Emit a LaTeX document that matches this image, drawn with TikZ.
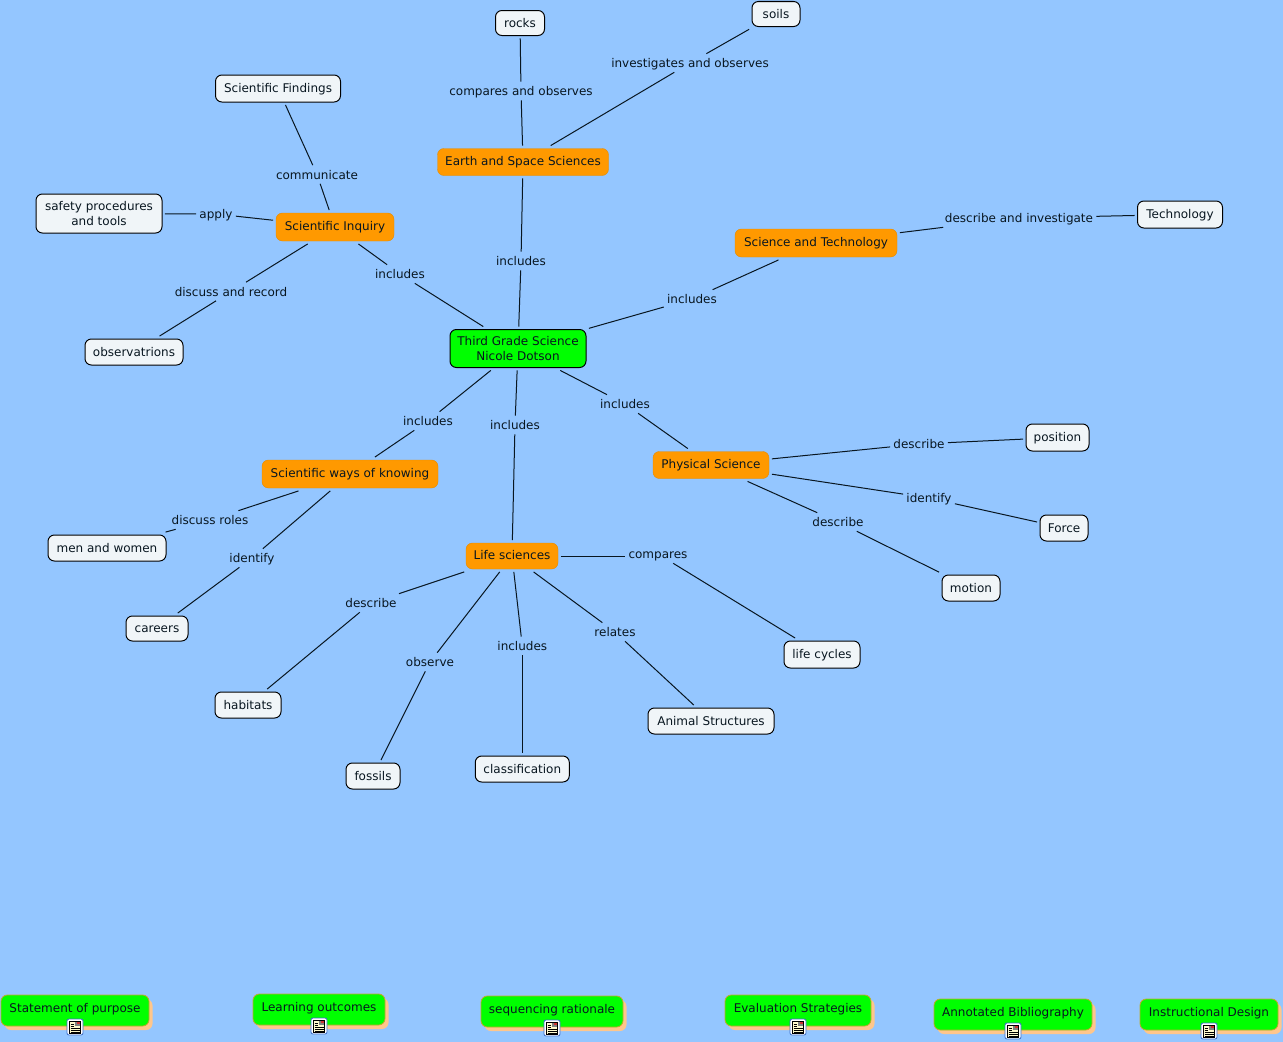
\documentclass[tikz,border=0pt]{standalone}
\usepackage{fontspec}
\setmainfont{DejaVu Sans}
\definecolor{bgblue}{RGB}{148,198,255}
\definecolor{lightbox}{RGB}{240,245,248}
\definecolor{orangebox}{RGB}{255,153,0}
\definecolor{greenbox}{RGB}{0,255,0}
\definecolor{shadowor}{RGB}{255,198,140}
\definecolor{edgeor}{RGB}{190,170,40}
\definecolor{inkdark}{RGB}{8,22,32}
\definecolor{iconblue}{RGB}{60,110,200}
\definecolor{iconpage}{RGB}{255,250,205}
\tikzset{
  x=0.75pt,y=-0.75pt,
  every node/.style={font=\fontsize{9pt}{11pt}\selectfont,text=inkdark,align=center},
  box/.style={rounded corners=4.8pt,inner sep=0pt,outer sep=2.2pt,text height=7.6pt,text depth=1.4pt},
  plain/.style={box,draw=black,line width=0.75pt,fill=lightbox},
  twoplain/.style={plain,text height={},text depth={}},
  topic/.style={box,fill=orangebox,draw=orangebox!90!black,line width=0.3pt,text height=7pt,text depth=2pt},
  root/.style={box,fill=greenbox,draw=black,line width=0.75pt,text height={},text depth={}},
  link/.style={inner sep=1pt,outer sep=1.5pt,text height=8pt,text depth=1pt},
  conn/.style={draw=inkdark,line width=0.75pt},
  tab/.style={rounded corners=4.8pt,fill=greenbox,draw=edgeor,line width=0.6pt},
  tabshadow/.style={rounded corners=4.8pt,fill=shadowor,draw=none},
  iconbox/.style={draw=iconblue,fill=white,rounded corners=1.5pt,line width=0.6pt,minimum width=12pt,minimum height=12pt,inner sep=0pt,outer sep=0pt},
}
\newcommand{\boxat}[7]{% style,name,cx,cy,w,h,text
  \node[#1,minimum width=#5*0.75pt,minimum height=#6*0.75pt] (#2) at (#3,#4) {#7};}
\newcommand{\tabat}[7]{% name,iconname,left,top,right,bottom,text
  \fill[tabshadow] (#3+3.5,#4+4) rectangle (#5+3.5,#6+4);
  \path[tab] (#3,#4) rectangle (#5,#6);
  \node[inner sep=0pt,text height=7.6pt,text depth=1.4pt] (#1) at ({(#3+#5)/2},{(#4+#6)/2-2}) {#7};
  \node[iconbox] (#2) at ({(#3+#5)/2},#6+1) {};
  \begin{scope}[shift={(#2.center)}]
    \fill[iconpage] (-5.5,-6) rectangle (5.5,6);
    \draw[black,line width=0.4pt] (-5.5,-6) rectangle (5.5,6);
    \fill[gray] (0,-5) rectangle (4.5,-1);
    \fill[red!60!gray] (2,-5) rectangle (4.5,-3);
    \draw[black,line width=0.45pt] (-4.5,-3) -- (-1,-3) (-4.5,-1) -- (-1,-1) (-4.5,1) -- (4.5,1) (-4.5,3) -- (4.5,3) (-4.5,5) -- (4.5,5);
  \end{scope}}
\begin{document}
\begin{tikzpicture}
\path[use as bounding box,fill=bgblue] (0,0) rectangle (1283,1042);
% concepts
\boxat{plain}{rocks}{520}{23}{49}{25}{rocks}
\boxat{plain}{soils}{776}{14}{48}{25}{soils}
\boxat{plain}{findings}{278}{88.5}{125}{27}{Scientific Findings}
\boxat{topic}{earth}{523}{162}{171}{27}{Earth and Space Sciences}
\boxat{twoplain}{safety}{99}{213.5}{126}{39}{safety procedures\\and tools}
\boxat{topic}{inquiry}{335}{227}{118}{28}{Scientific Inquiry}
\boxat{topic}{scitech}{816}{243}{162}{28}{Science and Technology}
\boxat{plain}{tech}{1180}{214.5}{85}{27}{Technology}
\boxat{plain}{obs}{134}{352}{98}{26}{observatrions}
\boxat{root}{third}{518}{348.5}{136}{38}{Third Grade Science\\Nicole Dotson}
\boxat{plain}{position}{1057.5}{437.5}{63}{27}{position}
\boxat{topic}{physical}{711}{465}{116}{27}{Physical Science}
\boxat{plain}{force}{1064}{528}{48}{26}{Force}
\boxat{topic}{ways}{350}{474}{176}{28}{Scientific ways of knowing}
\boxat{plain}{men}{107}{548}{118}{26}{men and women}
\boxat{topic}{life}{512}{556}{92}{26}{Life sciences}
\boxat{plain}{motion}{971}{588}{58}{26}{motion}
\boxat{plain}{careers}{157}{628.5}{62}{25}{careers}
\boxat{plain}{cycles}{822}{654.5}{76}{27}{life cycles}
\boxat{plain}{habitats}{248}{705}{66}{26}{habitats}
\boxat{plain}{animal}{711}{721}{126}{26}{Animal Structures}
\boxat{plain}{classif}{522.3}{769}{94}{26}{classification}
\boxat{plain}{fossils}{373}{776}{54}{26}{fossils}
% link labels
\node[link] (lapply) at (216,214) {apply};
\node[link] (lcomm) at (317,174.5) {communicate};
\node[link] (ldisc) at (231,291.5) {discuss and record};
\node[link] (linq) at (400,274) {includes};
\node[link] (lcomp) at (521,91) {compares and observes};
\node[link] (linv) at (690,63) {investigates and observes};
\node[link] (lear) at (521,261) {includes};
\node[link] (ldi) at (1019,218) {describe and investigate};
\node[link] (lst) at (692,299) {includes};
\node[link] (lphy) at (625,404) {includes};
\node[link] (lway) at (428,421) {includes};
\node[link] (llif) at (515,425) {includes};
\node[link] (ldp) at (919,444) {describe};
\node[link] (lif) at (929,498) {identify};
\node[link] (ldm) at (838,522) {describe};
\node[link] (lroles) at (210,520) {discuss roles};
\node[link] (lidc) at (252,558) {identify};
\node[link] (lcmp) at (658,554) {compares};
\node[link] (ldh) at (371,603) {describe};
\node[link] (lobs) at (430,662) {observe};
\node[link] (linc) at (522.3,646) {includes};
\node[link] (lrel) at (615,632) {relates};
% connectors
\draw[conn] (inquiry) -- (lapply); \draw[conn] (lapply) -- (safety);
\draw[conn] (inquiry) -- (lcomm); \draw[conn] (lcomm) -- (findings);
\draw[conn] (inquiry) -- (ldisc); \draw[conn] (ldisc) -- (obs);
\draw[conn] (third) -- (linq); \draw[conn] (linq) -- (inquiry);
\draw[conn] (earth) -- (lcomp); \draw[conn] (lcomp) -- (rocks);
\draw[conn] (earth) -- (linv); \draw[conn] (linv) -- (soils);
\draw[conn] (third) -- (lear); \draw[conn] (lear) -- (earth);
\draw[conn] (scitech) -- (ldi); \draw[conn] (ldi) -- (tech);
\draw[conn] (third) -- (lst); \draw[conn] (lst) -- (scitech);
\draw[conn] (third) -- (lphy); \draw[conn] (lphy) -- (physical);
\draw[conn] (third) -- (lway); \draw[conn] (lway) -- (ways);
\draw[conn] (third) -- (llif); \draw[conn] (llif) -- (life);
\draw[conn] (physical) -- (ldp); \draw[conn] (ldp) -- (position);
\draw[conn] (physical) -- (lif); \draw[conn] (lif) -- (force);
\draw[conn] (physical) -- (ldm); \draw[conn] (ldm) -- (motion);
\draw[conn] (ways) -- (lroles); \draw[conn] (lroles) -- (men);
\draw[conn] (ways) -- (lidc); \draw[conn] (lidc) -- (careers);
\draw[conn] (life.east) -- (life.east -| lcmp.west); \draw[conn] (lcmp) -- (cycles);
\draw[conn] (life) -- (ldh); \draw[conn] (ldh) -- (habitats);
\draw[conn] (life) -- (lobs); \draw[conn] (lobs) -- (fossils);
\draw[conn] (life) -- (linc); \draw[conn] (linc) -- (classif);
\draw[conn] (life) -- (lrel); \draw[conn] (lrel) -- (animal);
% bottom tabs
\tabat{t1}{i1}{1}{995}{149}{1026}{Statement of purpose}
\tabat{t2}{i2}{253}{994}{385}{1025}{Learning outcomes}
\tabat{t3}{i3}{481}{996}{623}{1027}{sequencing rationale}
\tabat{t4}{i4}{725}{995}{871}{1026}{Evaluation Strategies}
\tabat{t5}{i5}{934}{999}{1092}{1030}{Annotated Bibliography}
\tabat{t6}{i6}{1140}{999}{1278}{1030}{Instructional Design}
\end{tikzpicture}
\end{document}
